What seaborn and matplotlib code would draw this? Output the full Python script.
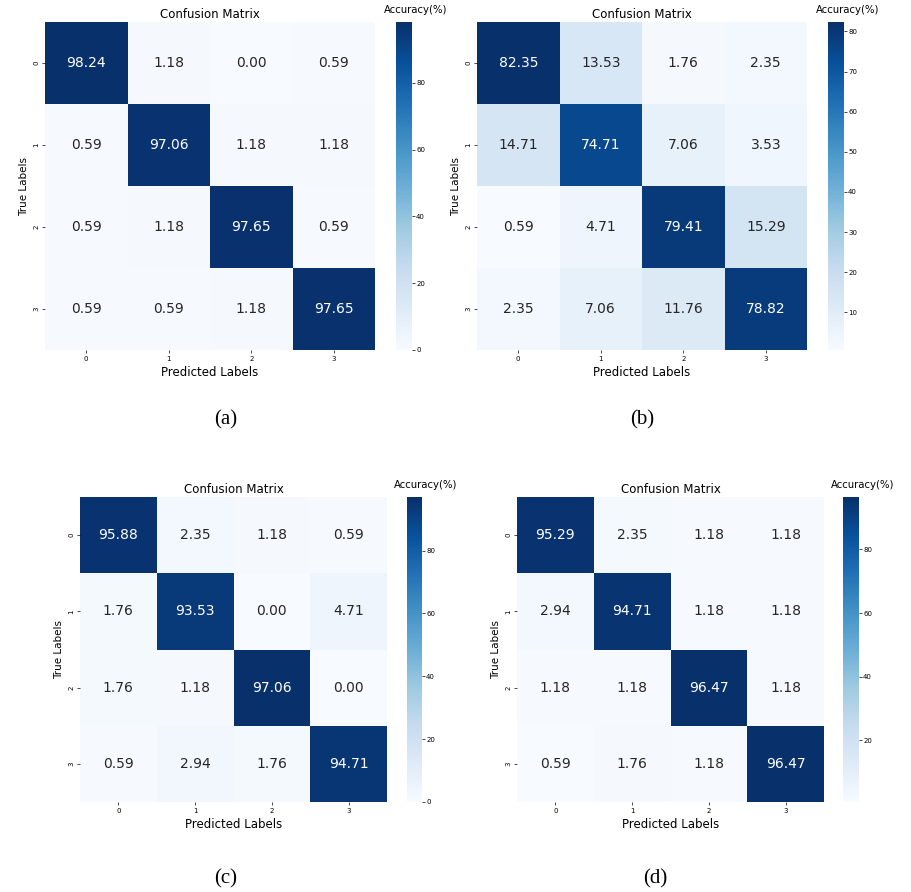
import matplotlib
matplotlib.use("Agg")
import matplotlib.pyplot as plt
import numpy as np
import seaborn as sns

labels = ["0", "1", "2", "3"]

cm_a = [[98.24, 1.18, 0.00, 0.59],
        [0.59, 97.06, 1.18, 1.18],
        [0.59, 1.18, 97.65, 0.59],
        [0.59, 0.59, 1.18, 97.65]]

cm_b = [[82.35, 13.53, 1.76, 2.35],
        [14.71, 74.71, 7.06, 3.53],
        [0.59, 4.71, 79.41, 15.29],
        [2.35, 7.06, 11.76, 78.82]]

cm_c = [[95.88, 2.35, 1.18, 0.59],
        [1.76, 93.53, 0.00, 4.71],
        [1.76, 1.18, 97.06, 0.00],
        [0.59, 2.94, 1.76, 94.71]]

cm_d = [[95.29, 2.35, 1.18, 1.18],
        [2.94, 94.71, 1.18, 1.18],
        [1.18, 1.18, 96.47, 1.18],
        [0.59, 1.76, 1.18, 96.47]]

captions = ["(a)", "(b)", "(c)", "(d)"]

W, H = 911, 892


def box(x0, y0, x1, y1):
    # pixel box (top-left origin) -> figure fraction rect
    return [x0 / W, 1 - y1 / H, (x1 - x0) / W, (y1 - y0) / H]


def draw_panel(fig, cm, hm_px, cb_px, cap_xy):
    ax = fig.add_axes(box(*hm_px))
    cax = fig.add_axes(box(*cb_px))
    sns.heatmap(np.array(cm), annot=True, fmt=".2f", cmap="Blues", ax=ax, cbar_ax=cax,
                xticklabels=labels, yticklabels=labels, square=False,
                annot_kws={"fontsize": 10})
    ax.set_title("Confusion Matrix", fontsize=8.5, pad=3)
    ax.set_xlabel("Predicted Labels", fontsize=8.5, labelpad=3)
    ax.set_ylabel("True Labels", fontsize=7.5, labelpad=3)
    ax.tick_params(axis="both", labelsize=5, length=2, width=0.5, pad=2)
    ax.set_yticklabels(labels, rotation=90, va="center")
    cax.tick_params(labelsize=5, length=2, width=0.5, pad=1)
    cax.text(1.25, 1.022, "Accuracy(%)", transform=cax.transAxes,
             ha="center", va="bottom", fontsize=7.3)
    fig.text(cap_xy[0] / W, 1 - cap_xy[1] / H, cap_xy[2], ha="center", va="center",
             fontsize=15, family="Liberation Serif")


fig = plt.figure(figsize=(W / 100, H / 100), dpi=100)

draw_panel(fig, cm_a, (45, 22, 375, 350), (396, 22, 412, 350), (226, 420, captions[0]))
draw_panel(fig, cm_b, (477, 22, 807, 350), (828, 22, 844, 350), (642, 420, captions[1]))
draw_panel(fig, cm_c, (80, 497, 387, 802), (407, 497, 422, 802), (226, 879, captions[2]))
draw_panel(fig, cm_d, (517, 497, 824, 802), (843, 497, 859, 802), (655, 879, captions[3]))

fig.savefig("out.png", dpi=100)
plt.close(fig)
